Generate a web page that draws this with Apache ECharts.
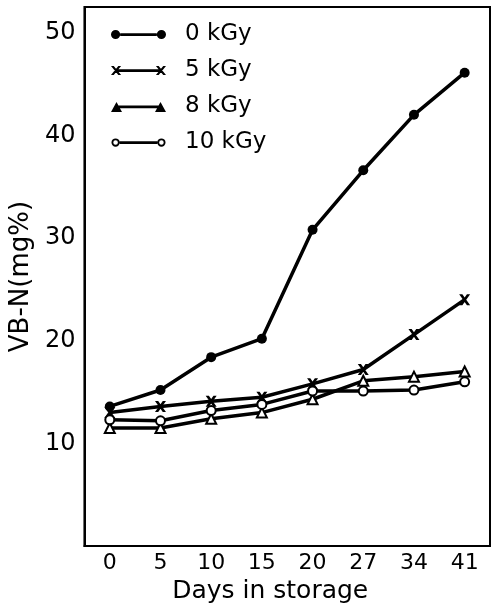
<!DOCTYPE html>
<html><head><meta charset="utf-8">
<script src="https://cdn.jsdelivr.net/npm/echarts@6/dist/echarts.min.js"></script>
<style>html,body{margin:0;padding:0;background:#fff}#c{width:493px;height:609px}</style>
</head><body><div id="c"></div>
<script>
const days = ['0','5','10','15','20','27','34','41'];
const names = ['0 kGy','5 kGy','8 kGy','10 kGy'];
const kGy0 = [13.6, 15.2, 18.4, 20.2, 30.8, 36.6, 42.0, 46.1];
const kGy5 = [13.0, 13.6, 14.1, 14.5, 15.8, 17.2, 20.6, 24.0];
const kGy8 = [11.5, 11.5, 12.4, 13.0, 14.3, 16.1, 16.5, 17.0];
const kGy10 = [12.3, 12.2, 13.2, 13.8, 15.1, 15.1, 15.2, 16.0];
const yTicks = [10, 20, 30, 40, 50];

const FONT = 'DejaVu Sans';
const crossPath = 'path://M0,0 L3.5,0 L12,12 L8.5,12 Z M8.5,0 L12,0 L3.5,12 L0,12 Z';
const icons = [
  'path://M0,6 A5,5 0 1,0 10,6 A5,5 0 1,0 0,6 Z M50,6 A5,5 0 1,0 60,6 A5,5 0 1,0 50,6 Z M10,4.5 L50,4.5 L50,7.5 L10,7.5 Z M0,0 L0,0.01 Z M60,12 L60,11.99 Z',
  'path://M0,1 L3,1 L11,11 L8,11 Z M8,1 L11,1 L3,11 L0,11 Z M49,1 L52,1 L60,11 L57,11 Z M57,1 L60,1 L52,11 L49,11 Z M6,4.5 L54,4.5 L54,7.5 L6,7.5 Z M0,0 L0.01,0 Z M60,12 L59.99,12 Z',
  'path://M0,12 L6,1 L12,12 Z M48,12 L54,1 L60,12 Z M8,5 L52,5 L52,8 L8,8 Z M0,0 L0.01,0 Z',
  'path://M0.5,6 A4.5,4.5 0 1,1 9.5,6 A4.5,4.5 0 1,1 0.5,6 Z M2.5,6 A2.5,2.5 0 1,0 7.5,6 A2.5,2.5 0 1,0 2.5,6 Z M50.5,6 A4.5,4.5 0 1,1 59.5,6 A4.5,4.5 0 1,1 50.5,6 Z M52.5,6 A2.5,2.5 0 1,0 57.5,6 A2.5,2.5 0 1,0 52.5,6 Z M9.5,4.5 L50.5,4.5 L50.5,7.5 L9.5,7.5 Z M0,0 L0.01,0 Z M60,12 L59.99,12 Z'
];
const seriesData = [kGy0, kGy5, kGy8, kGy10];
const symbols = ['circle', crossPath, 'emptyTriangle', 'emptyCircle'];
const symSizes = [10, 11, 10, 9];

const chart = echarts.init(document.getElementById('c'), null, {renderer: 'canvas'});
chart.setOption({
  animation: false,
  backgroundColor: '#fff',
  grid: {left: 84, right: 3, top: 7, bottom: 56, show: true, borderColor: '#000', borderWidth: 2, backgroundColor: 'transparent'},
  legend: {
    orient: 'vertical', left: 106, top: 18, itemWidth: 55, itemHeight: 12, itemGap: 13,
    data: names.map((n, i) => ({name: n, icon: icons[i], itemStyle: {color: '#000', borderWidth: 0}})),
    textStyle: {fontFamily: FONT, fontSize: 23, color: '#000', padding: [0, 0, 0, 14]}
  },
  xAxis: {
    type: 'category', data: days, boundaryGap: true,
    name: 'Days in storage', nameLocation: 'middle', nameGap: 29,
    nameTextStyle: {fontFamily: FONT, fontSize: 25, color: '#000', padding: [0, 34, 0, 0]},
    axisLine: {lineStyle: {color: '#000', width: 2}},
    axisTick: {inside: true, alignWithLabel: true, length: 6, lineStyle: {color: '#000', width: 2}},
    axisLabel: {fontFamily: FONT, fontSize: 22, color: '#000', margin: 6},
    splitLine: {show: false}
  },
  yAxis: {
    type: 'value', min: 0, max: 52.5, interval: 10,
    name: 'VB-N(mg%)', nameLocation: 'middle', nameGap: 46,
    nameTextStyle: {fontFamily: FONT, fontSize: 26, color: '#000'},
    axisLine: {show: true, lineStyle: {color: '#000', width: 2}},
    axisTick: {inside: true, length: 5, lineStyle: {color: '#000', width: 2}},
    axisLabel: {fontFamily: FONT, fontSize: 24, color: '#000', margin: 9, showMaxLabel: false,
      formatter: v => yTicks.includes(v) ? String(v) : ''},
    splitLine: {show: false}
  },
  series: seriesData.map((d, i) => ({
    name: names[i], type: 'line', data: d,
    symbol: symbols[i], symbolSize: symSizes[i], showAllSymbol: true,
    lineStyle: {color: '#000', width: 3.5},
    itemStyle: {color: '#000', borderColor: '#000', borderWidth: (i >= 2) ? 2 : 0},
    emphasis: {disabled: true}
  }))
});
</script></body></html>
